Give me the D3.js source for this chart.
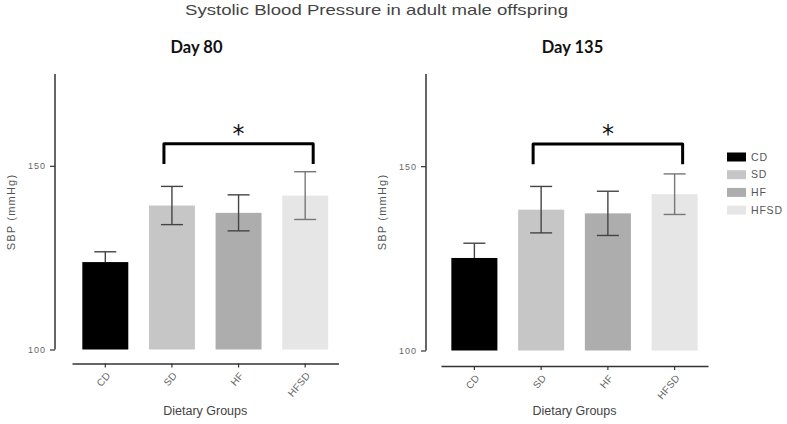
<!DOCTYPE html>
<html><head><meta charset="utf-8">
<script src="https://cdn.jsdelivr.net/npm/d3@7"></script>
<style>body{margin:0;background:#fff}svg{display:block}</style>
</head><body>
<script>
const categories = ["CD", "SD", "HF", "HFSD"];
const day80Means = [123.8, 139.2, 137.2, 141.9];
const day80Errors = [2.8, 5.2, 4.9, 6.5];
const day135Means = [125.1, 138.2, 137.2, 142.4];
const day135Errors = [4.0, 6.3, 6.0, 5.5];
const yTicks = [100, 150];
const yDomain = [100, 175];
const sigPair = ["SD", "HFSD"];
const sigLevel = 156;
const sigLegBottom = 150.5;
const colors = ["#000000", "#c6c6c6", "#adadad", "#e6e6e6"];
const mainTitle = "Systolic Blood Pressure in adult male offspring";
const panelTitles = ["Day 80", "Day 135"];

const W = 787, H = 424;
const svg = d3.select("body").append("svg").attr("width", W).attr("height", H);

svg.append("text").attr("x", 376.5).attr("y", 15).attr("text-anchor", "middle")
  .attr("font-family", "Liberation Sans, Arial, sans-serif").attr("font-size", 15)
  .attr("textLength", 383).attr("lengthAdjust", "spacingAndGlyphs")
  .attr("fill", "#444").text(mainTitle);

const panels = [
  {title: panelTitles[0], means: day80Means, errs: day80Errors, axisX: 55, xr: [72, 338.5], y0: 349.5, y1: 74, axisY: 363.5, titleX: 196.5, ylabX: 11},
  {title: panelTitles[1], means: day135Means, errs: day135Errors, axisX: 426, xr: [441, 708], y0: 350.5, y1: 74, axisY: 366, titleX: 572.5, ylabX: 382}
];

panels.forEach(p => {
  const g = svg.append("g");
  const x = d3.scaleBand().domain(categories).range(p.xr).paddingInner(0.31).paddingOuter(0.155);
  const y = d3.scaleLinear().domain(yDomain).range([p.y0, p.y1]);

  g.append("text").attr("x", p.titleX).attr("y", 53).attr("text-anchor", "middle")
    .attr("font-family", "Lato, Open Sans, sans-serif").attr("font-weight", "bold")
    .attr("font-size", 16.5).attr("fill", "#111").text(p.title);

  // y axis
  const ya = g.append("g").attr("transform", `translate(${p.axisX},0)`)
    .call(d3.axisLeft(y).tickValues(yTicks).tickSize(5).tickPadding(4).tickFormat(d3.format("d")));
  ya.select(".domain").attr("stroke", "#333").attr("stroke-width", 1.5).attr("d", `M0,${p.y1}V${p.y0}`);
  ya.selectAll(".tick line").attr("stroke", "#333").attr("stroke-width", 1.2);
  ya.selectAll(".tick text").attr("font-family", "Liberation Sans, Arial, sans-serif")
    .attr("font-size", 9).attr("letter-spacing", 1).attr("fill", "#666");

  g.append("text").attr("transform", `translate(${p.ylabX + 4},${212}) rotate(-90)`)
    .attr("text-anchor", "middle").attr("font-family", "Liberation Sans, Arial, sans-serif")
    .attr("font-size", 11).attr("letter-spacing", 1.2).attr("fill", "#555").text("SBP (mmHg)");

  // x axis
  const xa = g.append("g").attr("transform", `translate(0,${p.axisY})`)
    .call(d3.axisBottom(x).tickSize(4).tickSizeOuter(0));
  xa.select(".domain").attr("stroke", "#333").attr("stroke-width", 1.5);
  xa.selectAll(".tick line").attr("stroke", "#333").attr("stroke-width", 1.2);
  xa.selectAll(".tick text").attr("font-family", "Liberation Sans, Arial, sans-serif")
    .attr("font-size", 10).attr("letter-spacing", 0.3).attr("fill", "#666")
    .attr("text-anchor", "end").attr("dy", "0.35em")
    .attr("transform", "translate(3,10) rotate(-50)").attr("x", 0).attr("y", 0);

  const midX = (p.xr[0] + p.xr[1]) / 2;
  g.append("text").attr("x", midX).attr("y", 415).attr("text-anchor", "middle")
    .attr("font-family", "Liberation Sans Narrow, Liberation Sans, Arial, sans-serif")
    .attr("font-size", 12.5).attr("fill", "#444").text("Dietary Groups");

  const data = categories.map((c, i) => ({c, m: p.means[i], e: p.errs[i], col: colors[i]}));
  // bars
  g.selectAll("rect.bar").data(data).enter().append("rect").attr("class", "bar")
    .attr("x", d => x(d.c)).attr("width", x.bandwidth())
    .attr("y", d => y(d.m)).attr("height", d => y(yDomain[0]) - y(d.m))
    .attr("fill", d => d.col);

  // error bars
  const capW = 11;
  const eb = g.selectAll("g.eb").data(data).enter().append("g")
    .attr("stroke", (d, i) => i === 3 ? "#777" : "#444").attr("stroke-width", 1.4);
  eb.append("line").attr("x1", d => x(d.c) + x.bandwidth() / 2).attr("x2", d => x(d.c) + x.bandwidth() / 2)
    .attr("y1", d => y(d.m + d.e)).attr("y2", d => d.c === "CD" ? y(d.m) : y(d.m - d.e));
  eb.append("line").attr("x1", d => x(d.c) + x.bandwidth() / 2 - capW).attr("x2", d => x(d.c) + x.bandwidth() / 2 + capW)
    .attr("y1", d => y(d.m + d.e)).attr("y2", d => y(d.m + d.e));
  eb.filter(d => d.c !== "CD").append("line")
    .attr("x1", d => x(d.c) + x.bandwidth() / 2 - capW).attr("x2", d => x(d.c) + x.bandwidth() / 2 + capW)
    .attr("y1", d => y(d.m - d.e)).attr("y2", d => y(d.m - d.e));

  // significance bracket
  const bx1 = x(sigPair[0]) + x.bandwidth() / 2 - 8;
  const bx2 = x(sigPair[1]) + x.bandwidth() / 2 + 8;
  g.append("path").attr("d", `M${bx1},${y(sigLegBottom)}V${y(sigLevel)}H${bx2}V${y(sigLegBottom)}`)
    .attr("fill", "none").attr("stroke", "#000").attr("stroke-width", 3).attr("stroke-linejoin", "round");
  g.append("text").attr("x", (bx1 + bx2) / 2).attr("y", y(sigLevel) - 2).attr("text-anchor", "middle")
    .attr("font-family", "DejaVu Sans, sans-serif").attr("font-size", 24).attr("fill", "#111").text("*");
});

// legend
const lg = svg.append("g");
categories.forEach((c, i) => {
  const cy = 157 + i * 17.7;
  lg.append("rect").attr("x", 727).attr("y", cy - 4.5).attr("width", 19).attr("height", 9).attr("fill", colors[i]);
  lg.append("text").attr("x", 751).attr("y", cy).attr("dy", "0.35em")
    .attr("font-family", "Liberation Sans, Arial, sans-serif").attr("font-size", 10.5)
    .attr("letter-spacing", 0.8).attr("fill", "#555").text(c);
});
</script>
</body></html>
